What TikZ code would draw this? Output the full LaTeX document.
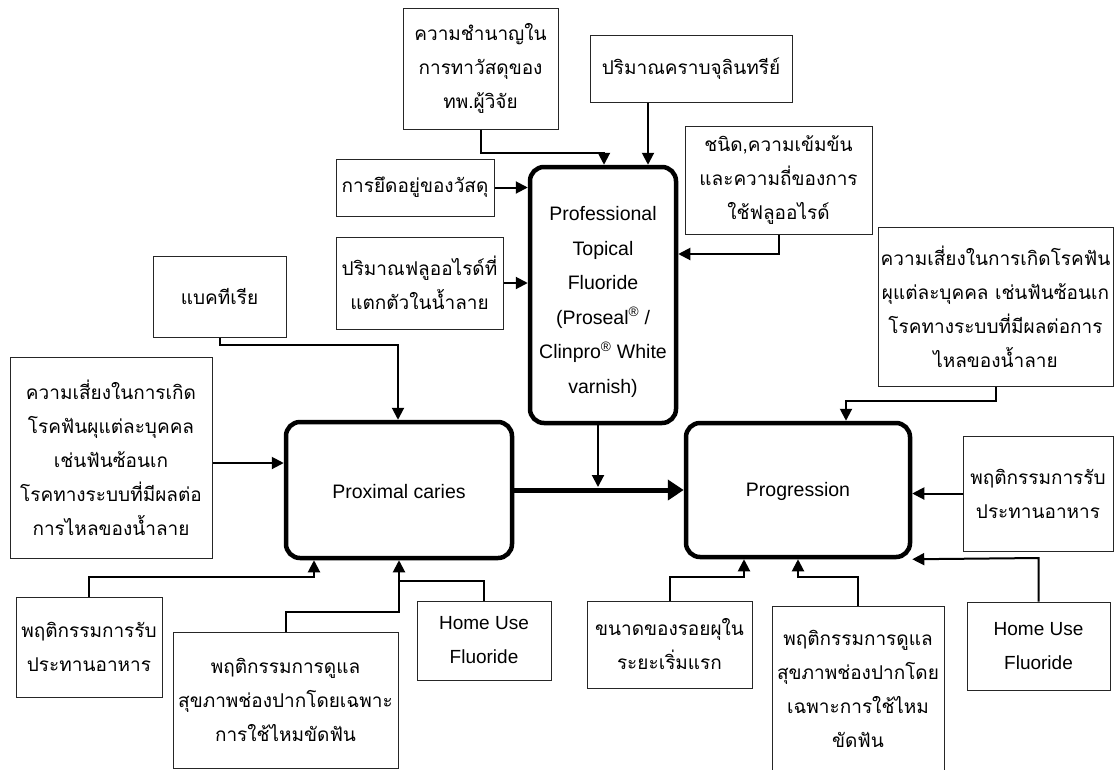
\documentclass[tikz,border=0pt]{standalone}
\usepackage{fontspec}
\setmainfont{Liberation Sans}
\newfontfamily\thaifont[Script=Thai]{Loma}
\usetikzlibrary{arrows.meta}
\begin{document}
\begin{tikzpicture}[x=1pt,y=-1pt,
  sbox/.style={draw=black!85, line width=1pt, inner sep=0pt, align=center,
    font={\thaifont\fontsize{19}{34}\selectfont}},
  lbox/.style={draw=black!85, line width=1pt, inner sep=0pt, align=center,
    font={\fontsize{19}{34}\selectfont}},
  bigbox/.style={draw, line width=4.5pt, rounded corners=14pt, inner sep=0pt, align=center,
    font={\fontsize{19.5}{34.5}\selectfont}},
  conn/.style={line width=2pt, -{Triangle[length=12pt,width=12pt]}},
  line/.style={line width=2pt},
  thickconn/.style={line width=5pt, -{Triangle[length=16pt,width=20pt]}}]
\useasboundingbox (0,0) rectangle (1115,769);
\fill[white] (0,0) rectangle (1115,769);

% main boxes
\node[bigbox, minimum width=146pt, minimum height=256pt] (ptf) at (603,295)
  {\rule{0pt}{28pt}Professional\\Topical\\Fluoride\\(Proseal\textsuperscript{®} /\\Clinpro\textsuperscript{®} White\\varnish)};
\node[bigbox, minimum width=226pt, minimum height=136pt] (pc) at (399,490) {\rule{0pt}{18pt}Proximal caries};
\node[bigbox, minimum width=224pt, minimum height=134pt] (prog) at (798,490) {\rule{0pt}{18pt}Progression};

% top factors
\node[sbox, minimum width=155pt, minimum height=121pt] (b1) at (480.5,68.5)
  {ความชำนาญใน\\การทาวัสดุของ\\ทพ.ผู้วิจัย};
\node[sbox, minimum width=202pt, minimum height=67pt] (b2) at (691,68.5)
  {ปริมาณคราบจุลินทรีย์};
\node[sbox, minimum width=158pt, minimum height=57pt] (b3) at (415,187.5)
  {การยึดอยู่ของวัสดุ};
\node[sbox, minimum width=167pt, minimum height=92pt] (b4) at (419.5,283)
  {ปริมาณฟลูออไรด์ที่\\แตกตัวในน้ำลาย};
\node[sbox, minimum width=187pt, minimum height=108pt] (b5) at (778.5,180)
  {ชนิด,ความเข้มข้น\\และความถี่ของการ\\ใช้ฟลูออไรด์};

% left factors
\node[sbox, minimum width=133pt, minimum height=81pt] (bact) at (219.5,296.5) {แบคทีเรีย};
\node[sbox, minimum width=202pt, minimum height=201pt] (lrisk) at (111,457.5)
  {ความเสี่ยงในการเกิด\\โรคฟันผุแต่ละบุคคล\\เช่นฟันซ้อนเก\\โรคทางระบบที่มีผลต่อ\\การไหลของน้ำลาย};
\node[sbox, minimum width=146pt, minimum height=100pt] (lfood) at (89,647)
  {พฤติกรรมการรับ\\ประทานอาหาร};
\node[sbox, minimum width=225pt, minimum height=136pt] (loral) at (285.5,700)
  {พฤติกรรมการดูแล\\สุขภาพช่องปากโดยเฉพาะ\\การใช้ไหมขัดฟัน};
\node[lbox, minimum width=134pt, minimum height=79pt] (lhome) at (484,640.5)
  {Home Use\\Fluoride};

% right factors
\node[sbox, minimum width=235pt, minimum height=159pt] (rrisk) at (995.5,306.5)
  {ความเสี่ยงในการเกิดโรคฟัน\\ผุแต่ละบุคคล เช่นฟันซ้อนเก\\โรคทางระบบที่มีผลต่อการ\\ไหลของน้ำลาย};
\node[sbox, minimum width=150pt, minimum height=115pt] (rfood) at (1038,493.5)
  {พฤติกรรมการรับ\\ประทานอาหาร};
\node[lbox, minimum width=143pt, minimum height=88pt] (rhome) at (1038.5,646)
  {Home Use\\Fluoride};
\node[sbox, minimum width=165pt, minimum height=87pt] (lesion) at (669.5,644.5)
  {ขนาดของรอยผุใน\\ระยะเริ่มแรก};
\node[sbox, minimum width=172pt, minimum height=166pt] (roral) at (858,689)
  {พฤติกรรมการดูแล\\สุขภาพช่องปากโดย\\เฉพาะการใช้ไหม\\ขัดฟัน};

\coordinate (join) at (598,487);

% connectors into PTF
\draw[conn] (b1.south) -- (b1.south |- 0,153) -| (ptf.north -| 604,0);
\draw[conn] (b2.south -| 648,0) -- (ptf.north -| 648,0);
\draw[conn] (b3.east) -- (ptf.west |- b3.east);
\draw[conn] (b4.east) -- (ptf.west |- b4.east);
\draw[conn] (b5.south) -- (b5.south |- 0,254) -- (ptf.east |- 0,254);

% main flow
\draw[thickconn] (pc.east) -- (prog.west);
\draw[conn] (ptf.south -| join) -- (join);

% into proximal caries
\draw[conn] (bact.south) -- (bact.south |- 0,345) -| (pc.north -| 398,0);
\draw[conn] (lrisk.east |- 0,463) -- (pc.west |- 0,463);
\draw[conn] (lfood.north) -- (lfood.north |- 0,577) -| (pc.south -| 314,0);
\draw[conn] (loral.north) -- (loral.north |- 0,612) -| (pc.south);
\draw[line] (lhome.north) -- (lhome.north |- 0,581) -- (pc.south |- 0,581);

% into progression
\draw[conn] (rrisk.south) -- (rrisk.south |- 0,401) -| (prog.north -| 846,0);
\draw[conn] (rfood.west) -- (prog.east |- rfood.west);
\draw[conn] (rhome.north) -- (rhome.north |- 0,558) -- (prog.south east);
\draw[conn] (lesion.north) -- (lesion.north |- 0,577) -| (prog.south -| 744,0);
\draw[conn] (roral.north) -- (roral.north |- 0,577) -| (prog.south);
\end{tikzpicture}
\end{document}
